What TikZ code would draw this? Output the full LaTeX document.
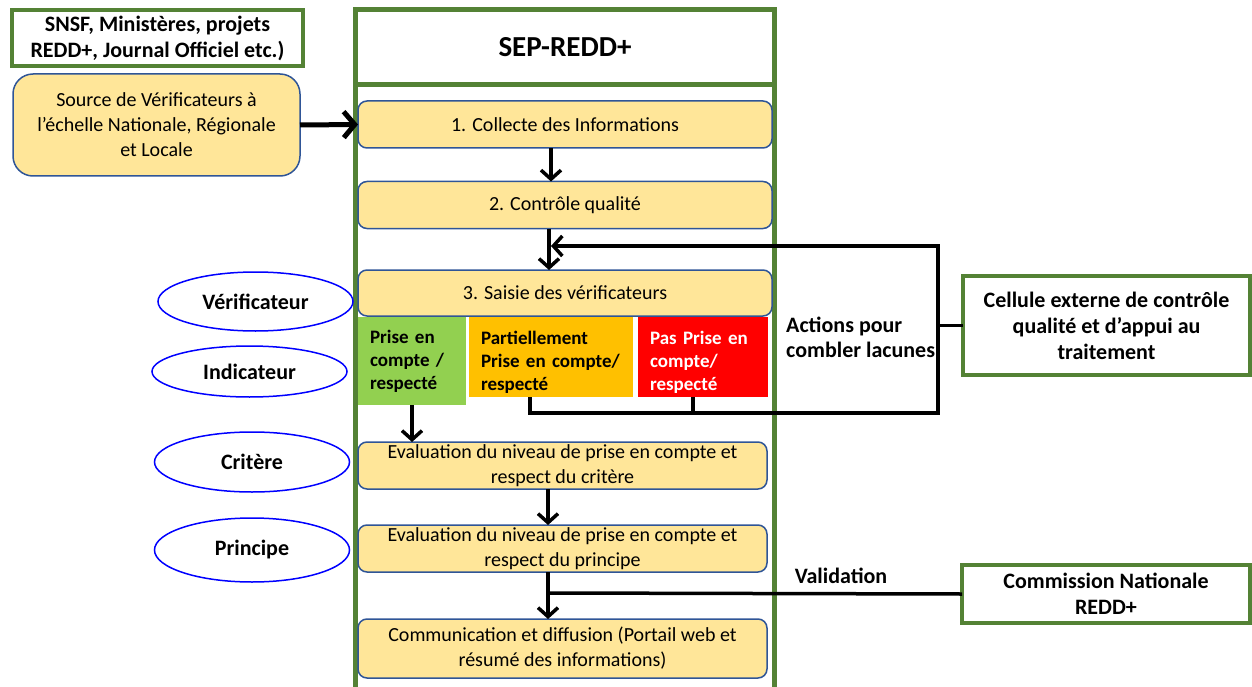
\documentclass[tikz,border=0pt]{standalone}
\usepackage{fontspec}
\setmainfont{Carlito}
\usetikzlibrary{arrows.meta,shapes.geometric}
\definecolor{grn}{HTML}{548235}
\definecolor{yel}{HTML}{FFE699}
\definecolor{bblue}{HTML}{2F5597}
\definecolor{lgreen}{HTML}{92D050}
\definecolor{orng}{HTML}{FFC000}
\definecolor{eblue}{HTML}{0000FF}
\begin{document}
\begin{tikzpicture}[x=1pt,y=-1pt,
  greenbox/.style={draw=grn, line width=4pt, fill=white, align=center, inner sep=0pt, outer sep=0pt,
    font=\bfseries\fontsize{22}{26}\selectfont},
  stepbox/.style={draw=bblue, line width=1.5pt, fill=yel, rounded corners=9pt, align=center,
    inner sep=0pt, outer sep=0pt, minimum width=414pt, minimum height=47pt, font=\fontsize{20}{25}\selectfont},
  colbox/.style={inner xsep=12pt, inner ysep=0pt, outer sep=0pt, align=left,
    font=\bfseries\fontsize{19}{23}\selectfont},
  lab/.style={ellipse, draw=eblue, line width=1.5pt, fill=white, inner sep=0pt,
    minimum width=195pt, font=\bfseries\fontsize{22}{26}\selectfont},
  txt/.style={font=\bfseries\fontsize{22}{25}\selectfont, align=left, inner sep=0pt},
  conn/.style={line width=3.5pt, black},
  arr/.style={conn, -{Straight Barb[length=9pt,width=20pt]}}
]
\useasboundingbox (0,0) rectangle (1252,687);
% column
\draw[grn, line width=5pt] (355.5,10) rectangle (774.5,700);
\node[greenbox, line width=5pt, minimum width=419pt, minimum height=75pt,
  font=\bfseries\fontsize{29}{34}\selectfont] (title) at (565,47.5) {SEP-REDD+};
% left boxes
\node[greenbox, minimum width=291pt, minimum height=56pt] (snsf) at (157.5,38)
  {SNSF, Ministères, projets\\REDD+, Journal Officiel etc.)};
\node[stepbox, rounded corners=20pt, minimum width=287pt, minimum height=102pt] (src) at (156.5,125)
  {Source de Vérificateurs à\\l’échelle Nationale, Régionale\\et Locale};
% steps
\node[stepbox] (s1) at (565,124.5) {1. Collecte des Informations};
\node[stepbox] (s2) at (565,205) {2. Contrôle qualité};
\node[stepbox, minimum height=46pt] (s3) at (565,293) {3. Saisie des vérificateurs};
\node[colbox, fill=lgreen, text width=84pt, minimum height=88pt] (gb) at (412,361)
  {Prise en\\compte /\\respecté};
\node[colbox, fill=orng, text width=140pt, minimum height=80pt] (ob) at (551,357)
  {\rule{0pt}{23pt}Partiellement\\Prise en compte/\\respecté};
\node[colbox, fill=red, text=white, text width=106pt, minimum height=80pt] (rb) at (703,357)
  {\rule{0pt}{23pt}Pas Prise en\\compte/\\respecté};
\node[stepbox, minimum width=409pt] (s4) at (562.5,465.5)
  {Evaluation du niveau de prise en compte et\\respect du critère};
\node[stepbox, minimum width=409pt] (s5) at (562.5,548.5)
  {Evaluation du niveau de prise en compte et\\respect du principe};
\node[stepbox, minimum width=409pt, minimum height=59pt] (s6) at (562.5,648.5)
  {Communication et diffusion (Portail web et\\résumé des informations)};
% ellipses
\node[lab, minimum height=59pt] (ver) at (255.5,301.5) {Vérificateur};
\node[lab, minimum height=51pt] (ind) at (249.5,371.5) {Indicateur};
\node[lab, minimum height=60pt] (cri) at (252,462) {Critère};
\node[lab, minimum height=64pt] (pri) at (252,550) {Principe};
% right boxes
\node[greenbox, minimum width=287pt, minimum height=99pt] (cel) at (1106.5,325.5)
  {Cellule externe de contrôle\\qualité et d’appui au\\traitement};
\node[greenbox, minimum width=288pt, minimum height=58pt] (com) at (1106,594)
  {Commission Nationale\\REDD+};
\node[txt, anchor=west] (act) at (786,337) {Actions pour\\combler lacunes};
\node[txt] (val) at (841,576) {Validation};
% connectors
\coordinate (xa) at (551,0);
\coordinate (xb) at (549,0);
\coordinate (xc) at (548,0);
\coordinate (xo) at (530,0);
\coordinate (xr) at (693,0);
\coordinate (fbR) at (938,413);
\coordinate (fbT) at (551,246);
\coordinate (fbC) at (938,0);
\coordinate (vj) at (548,593);
\draw[conn, line width=5pt, -{Straight Barb[length=11pt,width=26pt]}] (src.east) -- (s1.west);
\draw[arr] (s1.south -| xa) -- (s2.north -| xa);
\draw[arr] (s2.south -| xb) -- (s3.north -| xb);
\draw[arr] (ob.south -| xo) |- (fbR) |- (fbT);
\draw[conn] (rb.south -| xr) -- (fbR -| xr);
\draw[conn] (cel.west -| fbC) -- (cel.west);
\draw[arr] (gb.south) -- (s4.north -| gb.south);
\draw[arr] (s4.south -| xc) -- (s5.north -| xc);
\draw[arr] (s5.south -| xc) -- (s6.north -| xc);
\draw[conn] (vj) -- (com.west);
\end{tikzpicture}
\end{document}
